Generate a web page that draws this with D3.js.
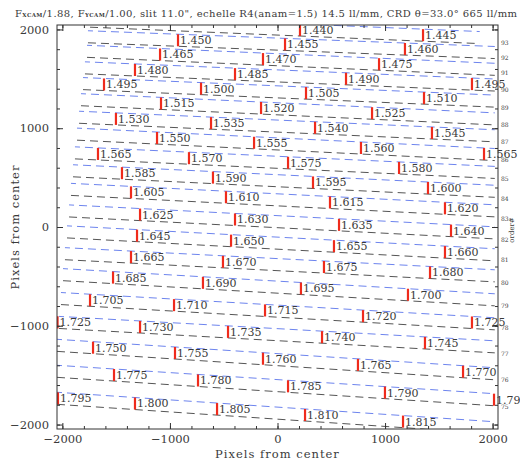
<!DOCTYPE html>
<html>
<head>
<meta charset="utf-8">
<script src="https://cdn.jsdelivr.net/npm/d3@7"></script>
<style>
  body { margin: 0; background: #fff; }
  svg text { font-family: "DejaVu Serif", serif; fill: #3a3a3a; }
</style>
</head>
<body>
<div id="chart"></div>
<script>
// echelle orders, top of detector to bottom
var orders      = [94, 93, 92, 91, 90, 89, 88, 87, 86, 85, 84, 83, 82, 81, 80, 79, 78, 77, 76, 75];
// slit centre (pixels from center) at left (x=-2050) and right (x=+2050) edge
var orderYLeft  = [2098, 1938, 1792, 1623, 1463, 1300, 1121, 950, 759, 577, 388, 169, -44, -266, -479, -722, -965, -1198, -1461, -1734];
var orderYRight = [1910, 1765, 1595, 1436, 1273, 1093, 922, 732, 551, 360, 162, -61, -283, -496, -739, -982, -1215, -1488, -1751, -2035];
// where each order trace starts / stops along x
var orderXStart = [-1743, -1762, -1771, -1790, -1808, -1827, -1845, -1864, -1883, -1901, -1920, -1938, -1957, -1976, -1994, -2013, -2031, -2050, -2050, -2050];
var orderXEnd   = [1880, 2020, 2020, 2020, 2020, 2020, 2020, 2020, 2020, 2020, 2020, 2020, 2020, 2020, 2020, 2020, 2020, 2020, 2020, 2020];

// order numbers written on the right hand side
var orderTickNum = [93, 92, 91, 90, 89, 88, 87, 86, 85, 84, 83, 82, 81, 80, 79, 78, 77, 76, 75];
var orderTickY   = [1863, 1711, 1559, 1387, 1205, 1033, 861, 678, 486, 283, 81, -132, -334, -567, -800, -1023, -1286, -1549, -1822];

// wavelength marks (microns), the order they fall on, and x position
var labelOrder = [94, 94,
  93, 93, 93,
  92, 92, 92,
  91, 91, 91, 91,
  90, 90, 90, 90,
  89, 89, 89,
  88, 88, 88, 88,
  87, 87, 87, 87,
  86, 86, 86, 86,
  85, 85, 85, 85,
  84, 84, 84, 84,
  83, 83, 83, 83,
  82, 82, 82, 82,
  81, 81, 81, 81,
  80, 80, 80, 80,
  79, 79, 79, 79, 79,
  78, 78, 78, 78, 78,
  77, 77, 77, 77, 77,
  76, 76, 76, 76, 76,
  75, 75, 75, 75, 75];
var labelWave = [1.440, 1.445,
  1.450, 1.455, 1.460,
  1.465, 1.470, 1.475,
  1.480, 1.485, 1.490, 1.495,
  1.495, 1.500, 1.505, 1.510,
  1.515, 1.520, 1.525,
  1.530, 1.535, 1.540, 1.545,
  1.550, 1.555, 1.560, 1.565,
  1.565, 1.570, 1.575, 1.580,
  1.585, 1.590, 1.595, 1.600,
  1.605, 1.610, 1.615, 1.620,
  1.625, 1.630, 1.635, 1.640,
  1.645, 1.650, 1.655, 1.660,
  1.665, 1.670, 1.675, 1.680,
  1.685, 1.690, 1.695, 1.700,
  1.705, 1.710, 1.715, 1.720, 1.725,
  1.725, 1.730, 1.735, 1.740, 1.745,
  1.750, 1.755, 1.760, 1.765, 1.770,
  1.775, 1.780, 1.785, 1.790, 1.795,
  1.795, 1.800, 1.805, 1.810, 1.815];
var labelX = [209, 1353,
  -925, 70, 1185,
  -1092, -135, 944,
  -1325, -395, 637, 1808,
  -1613, -711, 265, 1362,
  -1083, -153, 879,
  -1502, -618, 349, 1436,
  -1120, -218, 776, 1920,
  -1669, -823, 98, 1130,
  -1446, -600, 330, 1399,
  -1362, -479, 488, 1557,
  -1278, -395, 572, 1613,
  -1306, -432, 525, 1557,
  -1362, -507, 432, 1418,
  -1529, -693, 218, 1213,
  -1743, -962, -116, 795, 1808,
  -2045, -1278, -460, 414, 1371,
  -1715, -953, -135, 748, 1725,
  -1520, -739, 98, 999, 2013,
  -2041, -1325, -562, 256, 1167];

var majorTicks = [-2000, -1000, 0, 1000, 2000];
var minorTicks = d3.range(-2000, 2001, 200);
var slitHalf = 61; // half slit length in detector pixels

var width = 520, height = 461;
var svg = d3.select("#chart").append("svg")
  .attr("width", width)
  .attr("height", height);

var x = d3.scaleLinear().domain([-2050, 2050]).range([57, 498]);
var y = d3.scaleLinear().domain([-2045, 2045]).range([429, 25]);

svg.append("clipPath").attr("id", "plotclip")
  .append("rect")
  .attr("x", x(-2050)).attr("y", y(2045))
  .attr("width", x(2050) - x(-2050))
  .attr("height", y(-2045) - y(2045));

// helper: slit centre of order i at position xv
function orderY(i, xv) {
  return d3.scaleLinear().domain([-2050, 2050]).range([orderYLeft[i], orderYRight[i]])(xv);
}

var plot = svg.append("g").attr("clip-path", "url(#plotclip)");

// order traces: blue = top of slit, black = bottom of slit
var line = d3.line().x(function(d) { return x(d[0]); }).y(function(d) { return y(d[1]); });
orders.forEach(function(m, i) {
  var xs = [orderXStart[i], orderXEnd[i]];
  plot.append("path")
    .datum(xs.map(function(xv) { return [xv, orderY(i, xv) + slitHalf]; }))
    .attr("d", line)
    .attr("fill", "none")
    .attr("stroke", "#6d84ee")
    .attr("stroke-width", 1)
    .attr("stroke-dasharray", "8,5")
    .attr("stroke-dashoffset", 3);
  plot.append("path")
    .datum(xs.map(function(xv) { return [xv, orderY(i, xv) - slitHalf]; }))
    .attr("d", line)
    .attr("fill", "none")
    .attr("stroke", "#555")
    .attr("stroke-width", 1)
    .attr("stroke-dasharray", "8,5");
});

// wavelength marks
var marks = labelWave.map(function(w, k) {
  var i = orders.indexOf(labelOrder[k]);
  return { w: w, x: labelX[k], yc: orderY(i, labelX[k]) };
});

plot.selectAll(".mark")
  .data(marks)
  .enter().append("line")
  .attr("class", "mark")
  .attr("x1", function(d) { return x(d.x); })
  .attr("x2", function(d) { return x(d.x); })
  .attr("y1", function(d) { return y(d.yc + slitHalf); })
  .attr("y2", function(d) { return y(d.yc - slitHalf); })
  .attr("stroke", "#ef2b1c")
  .attr("stroke-width", 2.2);

svg.selectAll(".wl")
  .data(marks)
  .enter().append("text")
  .attr("class", "wl")
  .attr("x", function(d) { return x(d.x) + 2; })
  .attr("y", function(d) { return y(d.yc); })
  .attr("dy", "0.36em")
  .style("font-size", "11px")
  .text(function(d) { return d3.format(".3f")(d.w); });

// axes
var fmt = d3.format("d");
svg.append("g").attr("transform", "translate(0," + y(-2045) + ")")
  .call(d3.axisBottom(x).tickValues(majorTicks).tickSizeInner(-6).tickSizeOuter(0).tickPadding(6).tickFormat(fmt));
svg.append("g").attr("transform", "translate(0," + y(-2045) + ")")
  .call(d3.axisBottom(x).tickValues(minorTicks).tickSizeInner(-3).tickSizeOuter(0).tickFormat(""));
svg.append("g").attr("transform", "translate(0," + y(2045) + ")")
  .call(d3.axisTop(x).tickValues(majorTicks).tickSizeInner(-6).tickSizeOuter(0).tickFormat(""));
svg.append("g").attr("transform", "translate(0," + y(2045) + ")")
  .call(d3.axisTop(x).tickValues(minorTicks).tickSizeInner(-3).tickSizeOuter(0).tickFormat(""));
svg.append("g").attr("transform", "translate(" + x(-2050) + ",0)")
  .call(d3.axisLeft(y).tickValues(majorTicks).tickSizeInner(-6).tickSizeOuter(0).tickPadding(8).tickFormat(fmt));
svg.append("g").attr("transform", "translate(" + x(-2050) + ",0)")
  .call(d3.axisLeft(y).tickValues(minorTicks).tickSizeInner(-3).tickSizeOuter(0).tickFormat(""));
svg.append("g").attr("transform", "translate(" + x(2050) + ",0)")
  .call(d3.axisRight(y).tickValues(majorTicks).tickSizeInner(-6).tickSizeOuter(0).tickFormat(""));
svg.append("g").attr("transform", "translate(" + x(2050) + ",0)")
  .call(d3.axisRight(y).tickValues(minorTicks).tickSizeInner(-3).tickSizeOuter(0).tickFormat(""));

svg.selectAll(".domain").remove();
svg.selectAll(".tick line").attr("stroke", "#333");
svg.selectAll(".tick text").style("font-size", "11.5px").style("font-family", "DejaVu Serif").attr("fill", "#3a3a3a");

svg.append("rect")
  .attr("x", x(-2050)).attr("y", y(2045))
  .attr("width", x(2050) - x(-2050))
  .attr("height", y(-2045) - y(2045))
  .attr("fill", "none")
  .attr("stroke", "#333")
  .attr("stroke-width", 1);

// order numbers on the right
svg.selectAll(".ord")
  .data(orderTickNum)
  .enter().append("text")
  .attr("class", "ord")
  .attr("x", x(2050) + 3)
  .attr("y", function(d, k) { return y(orderTickY[k]); })
  .attr("dy", "0.35em")
  .style("font-size", "6px")
  .text(function(d) { return d; });

svg.append("text")
  .attr("transform", "translate(514," + y(-30) + ") rotate(-90)")
  .attr("text-anchor", "middle")
  .style("font-size", "7px")
  .text("order#");

// axis titles
svg.append("text")
  .attr("x", x(0)).attr("y", 458)
  .attr("text-anchor", "middle")
  .style("font-size", "11.5px")
  .style("letter-spacing", "1px")
  .text("Pixels from center");

svg.append("text")
  .attr("transform", "translate(19," + y(0) + ") rotate(-90)")
  .attr("text-anchor", "middle")
  .style("font-size", "11.5px")
  .style("letter-spacing", "1px")
  .text("Pixels from center");

// title
var title = svg.append("text")
  .attr("x", 15).attr("y", 17)
  .style("font-size", "10px")
  .attr("textLength", 502)
  .attr("lengthAdjust", "spacing");
title.append("tspan").text("F");
title.append("tspan").style("font-size", "5.5px").style("font-weight", "bold").text("XCAM");
title.append("tspan").text("/1.88, F");
title.append("tspan").style("font-size", "5.5px").style("font-weight", "bold").text("YCAM");
title.append("tspan").text("/1.00, slit 11.0\", echelle R4(anam=1.5) 14.5 ll/mm, CRD \u03b8=33.0\u00b0 665 ll/mm");
</script>
</body>
</html>
